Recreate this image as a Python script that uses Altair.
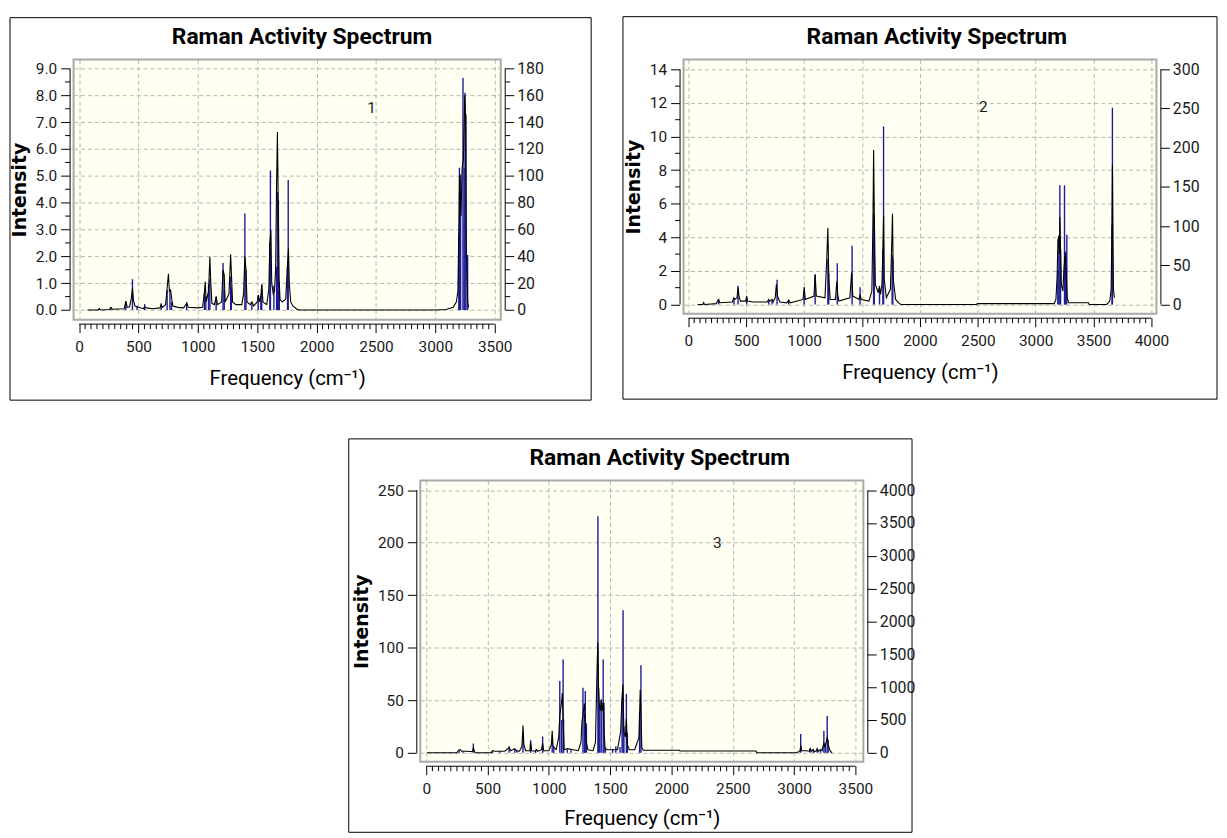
import altair as alt
import pandas as pd

# ---------------- Panel 1 ----------------
P1_LINE_F = [70, 160, 170, 180, 255, 268, 280, 380, 393, 405, 425, 440, 449, 458, 470, 488, 500, 540, 552, 565,
             620, 680, 691, 700, 728, 741, 752, 760, 770, 780, 790, 830, 880, 906, 920, 1000, 1040, 1055, 1062,
             1070, 1090, 1101, 1108, 1118, 1140, 1154, 1165, 1200, 1212, 1222, 1230, 1262, 1276, 1284, 1292,
             1320, 1370, 1385, 1396, 1405, 1414, 1440, 1455, 1470, 1500, 1510, 1520, 1530, 1538, 1548, 1580,
             1598, 1606, 1615, 1622, 1635, 1645, 1655, 1662, 1670, 1676, 1684, 1692, 1710, 1740, 1754, 1763,
             1770, 1782, 1800, 1830, 1850, 3000, 3090, 3150, 3177, 3190, 3198, 3204, 3210, 3216, 3226, 3236,
             3248, 3254, 3262, 3272, 3280]
P1_LINE_V = [0.0, 0.0, 0.05, 0.0, 0.02, 0.1, 0.03, 0.05, 0.33, 0.1, 0.12, 0.45, 0.8, 0.35, 0.15, 0.12, 0.1, 0.05,
             0.12, 0.08, 0.05, 0.08, 0.2, 0.1, 0.2, 0.8, 1.35, 0.7, 0.75, 0.4, 0.15, 0.1, 0.08, 0.25, 0.1, 0.08,
             0.1, 0.65, 1.06, 0.3, 0.7, 1.98, 1.1, 0.25, 0.2, 0.5, 0.2, 0.3, 1.5, 1.3, 0.3, 0.6, 2.08, 1.2, 0.3,
             0.2, 0.2, 0.6, 1.99, 1.5, 0.3, 0.2, 0.3, 0.15, 0.3, 0.56, 0.3, 0.5, 0.95, 0.3, 0.2, 0.8, 2.5, 2.97,
             1.0, 0.6, 0.7, 1.5, 4.4, 6.63, 4.3, 1.2, 0.4, 0.3, 0.4, 1.6, 2.29, 1.0, 0.3, 0.15, 0.05, 0.0, 0.0,
             0.02, 0.1, 0.3, 0.7, 2.9, 5.0, 4.4, 3.5, 5.3, 5.6, 8.0, 7.2, 2.0, 0.3, 0.1]
P1_STICK_F = [170, 268, 393, 449, 488, 552, 691, 741, 765, 778, 906, 1055, 1067, 1090, 1101, 1154, 1212, 1222,
              1276, 1282, 1396, 1405, 1455, 1508, 1530, 1538, 1606, 1611, 1640, 1663, 1670, 1678, 1686, 1755,
              1761, 3198, 3203, 3213, 3233, 3243, 3250, 3258, 3272]
P1_STICK_A = [1, 2, 6.6, 23, 3, 4.4, 5, 15, 15.5, 6, 6, 12.6, 10, 19, 23, 10, 35, 15, 25, 17, 72, 30, 5, 11,
              10.6, 19, 50, 104, 18, 32, 88, 82, 20, 32, 97, 57, 106, 101, 173, 106, 162, 146, 41]

# ---------------- Panel 2 ----------------
P2_LINE_F = [80, 125, 131, 140, 240, 255, 262, 270, 380, 392, 400, 420, 429, 437, 450, 495, 503, 512, 560, 680,
             694, 704, 723, 732, 750, 760, 770, 790, 850, 866, 880, 990, 1000, 1010, 1085, 1095, 1105, 1180,
             1195, 1205, 1213, 1225, 1270, 1282, 1290, 1300, 1395, 1410, 1420, 1475, 1483, 1492, 1560, 1585,
             1595, 1600, 1606, 1615, 1640, 1650, 1660, 1672, 1680, 1686, 1692, 1710, 1745, 1755, 1763, 1770,
             1790, 1823, 1840, 2490, 2495, 3160, 3175, 3185, 3192, 3200, 3205, 3209, 3215, 3222, 3235, 3245,
             3255, 3263, 3272, 3286, 3457, 3462, 3614, 3640, 3652, 3659, 3663, 3667, 3672, 3680]
P2_LINE_V = [0.0, 0.0, 0.1, 0.0, 0.05, 0.25, 0.3, 0.1, 0.15, 0.4, 0.3, 0.4, 1.0, 0.5, 0.2, 0.2, 0.45, 0.2, 0.15,
             0.15, 0.3, 0.2, 0.3, 0.15, 0.4, 1.2, 0.5, 0.15, 0.1, 0.25, 0.1, 0.3, 1.04, 0.3, 0.5, 1.8, 0.5, 0.4,
             2.7, 4.57, 1.5, 0.3, 0.3, 1.37, 0.6, 0.2, 0.4, 1.9, 0.5, 0.3, 0.6, 0.3, 0.2, 0.8, 5.4, 9.2, 5.3,
             1.2, 0.7, 1.1, 0.6, 1.2, 3.3, 5.3, 1.5, 0.4, 0.9, 3.2, 5.4, 1.5, 0.3, 0.05, 0.0, 0.0, 0.05, 0.05,
             0.3, 1.6, 3.8, 4.1, 3.0, 5.2, 3.2, 1.2, 0.8, 2.2, 3.1, 2.0, 0.4, 0.1, 0.1, 0.0, 0.0, 0.2, 0.9, 4.8,
             8.3, 4.7, 0.9, 0.4]
P2_STICK_F = [131, 260, 394, 429, 503, 694, 723, 766, 866, 1000, 1095, 1205, 1212, 1286, 1414, 1483, 1600,
              1606, 1651, 1680, 1686, 1760, 1766, 3191, 3200, 3209, 3215, 3249, 3255, 3262, 3269, 3660, 3663]
P2_STICK_A = [3, 6, 6, 24, 11, 5, 5, 31.5, 6, 13, 38, 58, 40, 52.5, 75, 22, 116, 111, 20, 70, 227, 63, 58, 44,
              82, 152, 70, 152, 47, 68, 89, 101, 251]

# ---------------- Panel 3 ----------------
P3_LINE_F = [5, 250, 262, 275, 290, 320, 360, 378, 384, 392, 400, 530, 540, 560, 640, 676, 690, 722, 735, 760,
             780, 789, 796, 810, 845, 851, 860, 890, 900, 910, 940, 949, 958, 1000, 1020, 1027, 1034, 1060, 1080,
             1089, 1103, 1110, 1116, 1125, 1150, 1200, 1240, 1262, 1270, 1278, 1290, 1297, 1306, 1318, 1360,
             1380, 1389, 1395, 1400, 1405, 1412, 1420, 1427, 1436, 1443, 1450, 1458, 1470, 1520, 1560, 1585,
             1597, 1604, 1612, 1624, 1632, 1640, 1655, 1700, 1735, 1745, 1751, 1758, 1770, 2065, 2070, 2690,
             2695, 3010, 3040, 3050, 3054, 3062, 3100, 3125, 3132, 3140, 3155, 3165, 3182, 3190, 3198, 3218,
             3228, 3235, 3243, 3250, 3262, 3270, 3278, 3290, 3300, 3310]
P3_LINE_V = [0, 0, 2.5, 3, 1.5, 1.5, 1.2, 1.5, 5, 1.5, 0, 0, 2, 1.5, 1.5, 5, 2, 4, 2, 1.5, 6, 26, 8, 2, 2, 10, 2,
             1.5, 3, 1.5, 3, 9, 2, 2, 8, 21, 6, 3, 15, 35, 48, 57, 30, 3, 4, 3, 2, 10, 30, 36, 47, 30, 10, 3, 2,
             10, 60, 89, 105, 60, 45, 40, 51, 40, 48, 20, 5, 3, 3, 3, 20, 53, 65, 20, 15, 32, 8, 3, 3, 15, 60,
             39, 5, 2.5, 2.5, 1.8, 1.8, 0, 0, 1, 3, 7, 2, 2, 1.5, 4, 1.5, 3, 1, 2, 4, 1.5, 3, 2, 6, 9, 6, 10,
             15, 8, 3, 1, 0]
P3_STICK_F = [270, 300, 384, 540, 600, 676, 722, 740, 789, 851, 892, 949, 1027, 1040, 1089, 1103, 1116, 1120,
              1150, 1180, 1278, 1290, 1297, 1306, 1400, 1406, 1415, 1427, 1443, 1450, 1460, 1520, 1546, 1580,
              1597, 1605, 1612, 1632, 1640, 1740, 1751, 3054, 3130, 3157, 3189, 3216, 3243, 3255, 3270, 3278]
P3_STICK_A = [30, 25, 142, 20, 25, 101, 60, 40, 254, 193, 50, 248, 178, 100, 1092, 500, 1422, 508, 50, 40, 990,
              600, 940, 450, 3600, 990, 700, 800, 1422, 760, 80, 60, 100, 90, 830, 2170, 400, 897, 300, 620,
              1335, 287, 65, 55, 70, 60, 337, 150, 560, 200]

LABELS = ["1", "2", "3"]
LABEL_F = [2464, 2548, 2374]
LABEL_V = [7.53, 11.76, 199.4]
TITLE = "Raman Activity Spectrum"
X_TITLE = "Frequency (cm\u207b\u00b9)"
Y_TITLE = "Intensity"

FONT = "Roboto, Liberation Sans, sans-serif"
WIDEB = "DejaVu Sans, Verdana, sans-serif"
BLUE = "#1c1c9a"
GRID = "#b4b4b4"
IVORY = "#fffff2"


def ticks(top, step):
    n = int(round(top / step))
    return [round(i * step, 4) for i in range(n + 1)]


def minor(top, step, major):
    out = []
    for v in ticks(top, step):
        r = v / major
        if abs(r - round(r)) > 1e-6:
            out.append(v)
    return out


def indep(chart):
    return chart.resolve_axis(x="independent", y="independent")


def panel(line_f, line_v, stick_f, stick_a, lab, lab_f, lab_v, w, h, xdom, xtop,
          ldom, ltop, lmaj, lmin, lfmt, rdom, rtop, rmaj, rmin, box, title_dx, xpad):
    xs = alt.Scale(domain=xdom, nice=False, zero=False)
    ls = alt.Scale(domain=ldom, nice=False, zero=False)
    rs = alt.Scale(domain=rdom, nice=False, zero=False)

    xaxis = alt.Axis(
        orient="bottom", values=ticks(xtop, 500), format="d",
        tickSize=9, tickColor="black", tickWidth=1, domain=False, offset=4,
        grid=True, gridDash=[4, 3], gridColor=GRID, gridWidth=1,
        labelFont=FONT, labelFontSize=15.5, labelColor="#1a1a1a", labelPadding=7,
        labelOverlap=False, labelFlush=False,
        title=X_TITLE, titleFont=FONT, titleFontSize=20.5, titleFontWeight="normal",
        titleColor="black", titlePadding=xpad)
    laxis = alt.Axis(
        orient="left", values=ticks(ltop, lmaj), format=lfmt,
        tickSize=9, tickColor="black", tickWidth=1, domain=False, offset=4,
        grid=True, gridDash=[4, 3], gridColor=GRID, gridWidth=1,
        labelFont=FONT, labelFontSize=15.5, labelColor="#1a1a1a", labelPadding=4,
        labelOverlap=False, labelFlush=False,
        title=Y_TITLE, titleFont=WIDEB, titleFontSize=19, titleFontWeight="bold",
        titleColor="black", titlePadding=6)
    raxis = alt.Axis(
        orient="right", values=ticks(rtop, rmaj), format="d",
        tickSize=9, tickColor="black", tickWidth=1, domain=False, offset=4,
        grid=False, labelFont=FONT, labelFontSize=16, labelColor="#1a1a1a", labelPadding=3,
        labelOverlap=False, labelFlush=False, title="")

    one = pd.DataFrame({"k": [0]})
    frame = alt.Chart(one).mark_rect(fillOpacity=0, stroke="black", strokeWidth=1).encode(
        x=alt.value(box[0]), x2=alt.value(box[1]), y=alt.value(box[2]), y2=alt.value(box[3]))

    # right-axis group: activity sticks
    sdf = pd.DataFrame({"f": stick_f, "a": stick_a})
    sticks = alt.Chart(sdf).mark_rule(color=BLUE, strokeWidth=1.4).encode(
        x=alt.X("f:Q", scale=xs, axis=None),
        y=alt.Y("a:Q", scale=rs, axis=raxis),
        y2=alt.datum(0))
    rline = alt.Chart(pd.DataFrame({"a0": [0], "a1": [rtop]})).mark_rule(color="black", strokeWidth=1).encode(
        x=alt.value(w + 4.5),
        y=alt.Y("a0:Q", scale=rs, axis=None), y2="a1:Q")
    r_layers = [sticks, rline]
    rmin_vals = minor(rtop, rmin, rmaj)
    if rmin_vals:
        r_layers.append(alt.Chart(pd.DataFrame({"t": rmin_vals})).mark_rule(color="black", strokeWidth=1).encode(
            x=alt.value(w + 4.5), x2=alt.value(w + 9.5),
            y=alt.Y("t:Q", scale=rs, axis=None)))
    right = indep(alt.layer(*r_layers))

    # left-axis group: intensity spectrum
    ldf = pd.DataFrame({"f": line_f, "v": line_v})
    line = alt.Chart(ldf).mark_line(color="black", strokeWidth=1.1).encode(
        x=alt.X("f:Q", scale=xs, axis=xaxis),
        y=alt.Y("v:Q", scale=ls, axis=laxis))
    tdf = pd.DataFrame({"f": [lab_f], "v": [lab_v], "t": [lab]})
    text = alt.Chart(tdf).mark_text(font=FONT, fontSize=15.5, color="#1a1a1a").encode(
        x=alt.X("f:Q", scale=xs, axis=None),
        y=alt.Y("v:Q", scale=ls, axis=None), text="t:N")
    lline = alt.Chart(pd.DataFrame({"v0": [0], "v1": [ltop]})).mark_rule(color="black", strokeWidth=1).encode(
        x=alt.value(-3.5),
        y=alt.Y("v0:Q", scale=ls, axis=None), y2="v1:Q")
    bline = alt.Chart(pd.DataFrame({"x0": [0], "x1": [xtop]})).mark_rule(color="black", strokeWidth=1).encode(
        x=alt.X("x0:Q", scale=xs, axis=None), x2="x1:Q",
        y=alt.value(h + 4.5))
    xminor = alt.Chart(pd.DataFrame({"t": minor(xtop, 50, 500)})).mark_rule(color="black", strokeWidth=1).encode(
        x=alt.X("t:Q", scale=xs, axis=None),
        y=alt.value(h + 4.5), y2=alt.value(h + 9.5))
    title = alt.Chart(pd.DataFrame({"t": [TITLE]})).mark_text(
        font=FONT, fontSize=23, fontWeight="bold", color="black", baseline="alphabetic", align="center").encode(
        x=alt.value(w / 2 + title_dx), y=alt.value(-16), text="t:N")
    l_layers = [line, text, lline, bline, xminor, title]
    lmin_vals = minor(ltop, lmin, lmaj)
    if lmin_vals:
        l_layers.append(alt.Chart(pd.DataFrame({"t": lmin_vals})).mark_rule(color="black", strokeWidth=1).encode(
            x=alt.value(-3.5), x2=alt.value(-8.5),
            y=alt.Y("t:Q", scale=ls, axis=None)))
    left = indep(alt.layer(*l_layers))

    return indep(alt.layer(frame, right, left).resolve_scale(y="independent")).properties(width=w, height=h)


p1 = panel(P1_LINE_F, P1_LINE_V, P1_STICK_F, P1_STICK_A, LABELS[0], LABEL_F[0], LABEL_V[0],
           430, 262, [-47, 3551], 3500, [-0.36, 9.34], 9, 1, 0.5, ".1f", [-7.2, 186.8], 180, 20, 10,
           (-64, 521, -42, 343), 15, 14)
p2 = panel(P2_LINE_F, P2_LINE_V, P2_STICK_F, P2_STICK_A, LABELS[1], LABEL_F[1], LABEL_V[1],
           476, 256, [-42, 4043], 4000, [-0.55, 14.59], 14, 2, 1, "d", [-11.8, 312.6], 300, 50, 50,
           (-61, 537, -43, 342), 17, 14)
p3 = panel(P3_LINE_F, P3_LINE_V, P3_STICK_F, P3_STICK_A, LABELS[2], LABEL_F[2], LABEL_V[2],
           446, 283, [-49, 3565], 3500, [-8.5, 259], 250, 50, 50, "d", [-136, 4144], 4000, 500, 500,
           (-72, 495, -42, 354), 18, 12)

spacer = alt.Chart(pd.DataFrame({"k": [0]})).mark_point(opacity=0).properties(
    width=275, height=10, view=alt.ViewBackground(fill="white", stroke="white", strokeWidth=0))

row1 = alt.hconcat(p1, p2, spacing=28)
row2 = alt.hconcat(spacer, p3, spacing=0)
chart = alt.vconcat(row1, row2, spacing=35).properties(
    padding={"left": 0, "top": 4, "right": 0, "bottom": 0}, background="white"
).configure_view(fill=IVORY, stroke="#a9a9a9", strokeWidth=2)

chart.save("out.html", embed_options={"renderer": "svg", "actions": False})
